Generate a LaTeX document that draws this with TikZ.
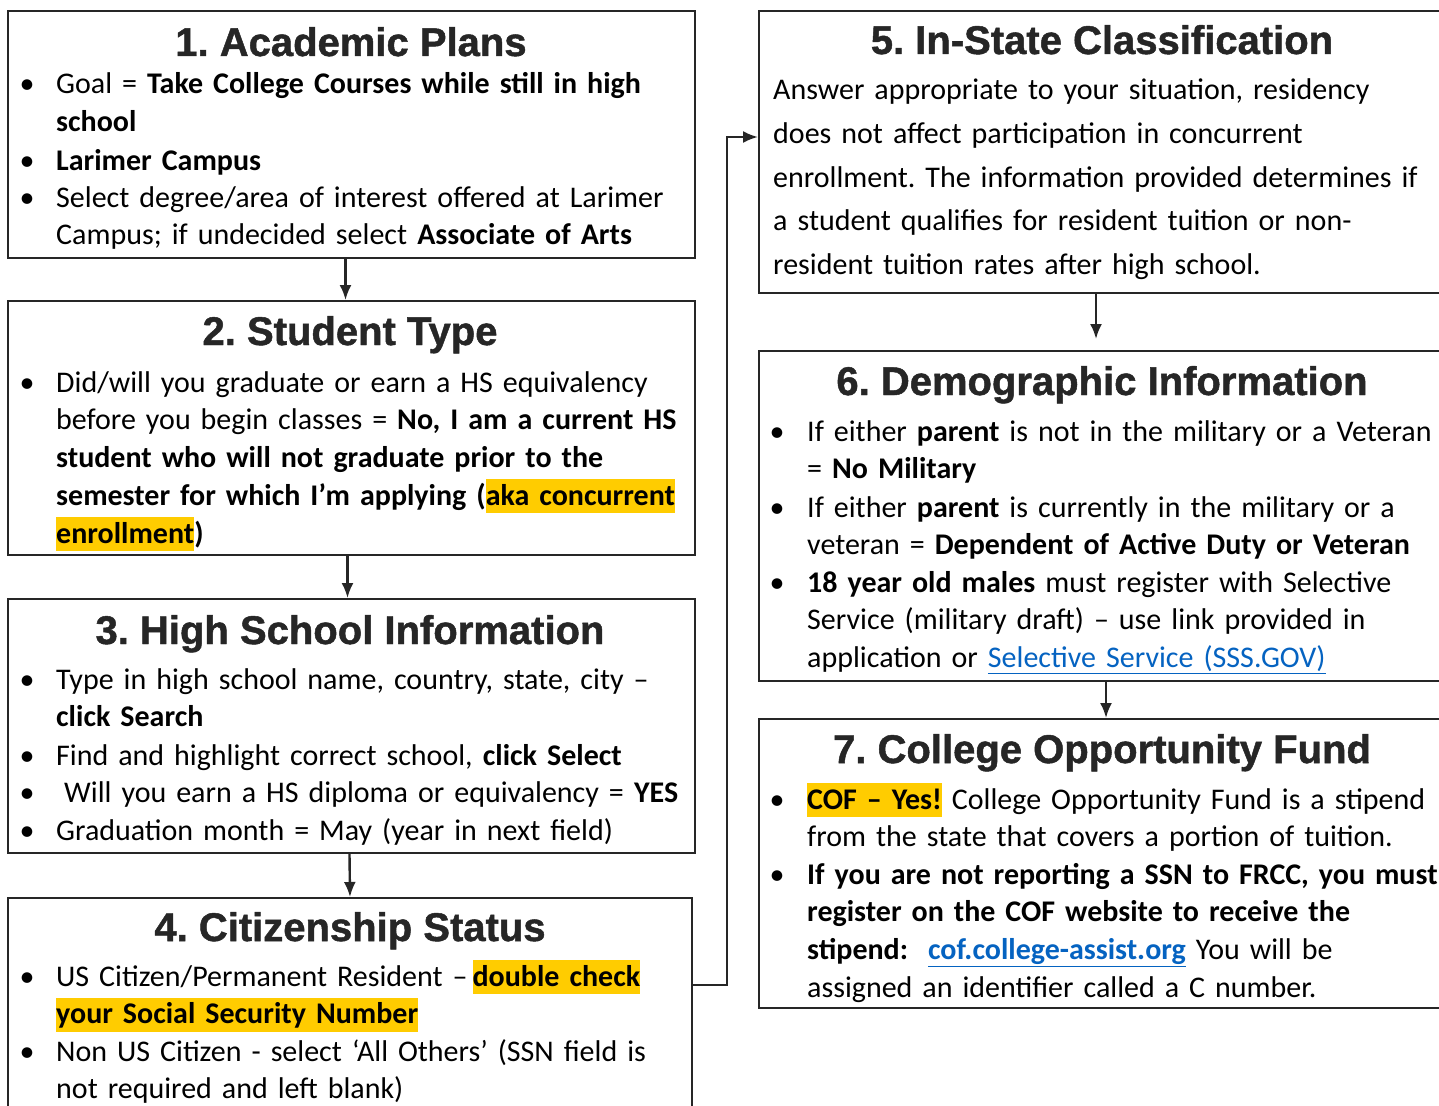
\documentclass[tikz,border=0pt]{standalone}
\usepackage{fontspec}
\setmainfont{Carlito}
\newfontfamily\ttlfont{Liberation Sans}[BoldFeatures={FakeBold=1.2}]
\usetikzlibrary{arrows.meta}
\frenchspacing

\definecolor{hlyellow}{RGB}{255,204,0}
\definecolor{linkblue}{RGB}{5,99,193}
\newcommand\hlite[1]{{\setlength{\fboxsep}{0pt}\colorbox{hlyellow}{\rule[-8pt]{0pt}{34pt}#1}}}
\newcommand\lnk[1]{\textcolor{linkblue}{\underline{#1}}}

\tikzset{
    box/.style={draw=black!85, line width=2pt, anchor=north west, inner sep=0pt},
    ttl/.style={anchor=base, inner sep=0pt, text=black!85, font={\ttlfont\bfseries\fontsize{40}{48}\selectfont}},
    txt/.style={anchor=base west, align=left, text width=700pt, inner sep=0pt, font={\fontsize{30}{37.8}\selectfont}},
    bul/.style={anchor=base, inner sep=0pt, font={\fontsize{30}{37.8}\selectfont}},
    arr/.style={-{Latex[length=15pt,width=12pt]}, line width=2.4pt, draw=black!85}
}

\begin{document}
\begin{tikzpicture}[x=1pt,y=-1pt]
    \useasboundingbox (0,0) rectangle (1439,1105);
    \clip (0,0) rectangle (1439,1105);
    \fill[white] (0,0) rectangle (1439,1105);

    % left column
    \node [box, minimum width=687pt, minimum height=247pt] (plans) at (7,10) {};
    \node [ttl] at (351,56) {1. Academic Plans};
    \node [bul] at (27,94) {\textbullet};
    \node [txt] at (56,94) {Goal = \textbf{Take College Courses while still in high}\\ \textbf{school}};
    \node [bul] at (27,170) {\textbullet};
    \node [txt] at (56,170) {\textbf{Larimer Campus}};
    \node [bul] at (27,207) {\textbullet};
    \node [txt] at (56,207) {Select degree/area of interest offered at Larimer\\ Campus; if undecided select \textbf{Associate of Arts}};

    \node [box, minimum width=687pt, minimum height=254pt] (stype) at (7,300) {};
    \node [ttl] at (350,345) {2. Student Type};
    \node [bul] at (27,392) {\textbullet};
    \node [txt] at (56,392) {Did/will you graduate or earn a HS equivalency\\ before you begin classes = \textbf{No, I am a current HS}\\ \textbf{student who will not graduate prior to the}\\ \textbf{semester for which I’m applying (\hlite{aka concurrent}}\\ \textbf{\hlite{enrollment})}};

    \node [box, minimum width=687pt, minimum height=254pt] (hsinfo) at (7,598) {};
    \node [ttl] at (350,644) {3. High School Information};
    \node [bul] at (27,689) {\textbullet};
    \node [txt] at (56,689) {Type in high school name, country, state, city --\\ \textbf{click Search}};
    \node [bul] at (27,765) {\textbullet};
    \node [txt] at (56,765) {Find and highlight correct school, \textbf{click Select}};
    \node [bul] at (27,802) {\textbullet};
    \node [txt] at (64,802) {Will you earn a HS diploma or equivalency = \textbf{YES}};
    \node [bul] at (27,840) {\textbullet};
    \node [txt] at (56,840) {Graduation month = May (year in next field)};

    \node [box, minimum width=684pt, minimum height=230pt] (citizen) at (7,897) {};
    \node [ttl] at (350,941) {4. Citizenship Status};
    \node [bul] at (27,986) {\textbullet};
    \node [txt] at (56,986) {US Citizen/Permanent Resident --\,\textbf{\hlite{double check}}\\ \textbf{\hlite{your Social Security Number}}};
    \node [bul] at (27,1061) {\textbullet};
    \node [txt] at (56,1061) {Non US Citizen - select ‘All Others’ (SSN field is\\ not required and left blank)};

    % right column
    \node [box, minimum width=688pt, minimum height=282pt] (instate) at (758,10) {};
    \node [ttl] at (1102,54) {5. In-State Classification};
    \node [txt, font={\fontsize{30}{43.5}\selectfont}] at (773,100) {Answer appropriate to your situation, residency\\ does not affect participation in concurrent\\ enrollment. The information provided determines if\\ a student qualifies for resident tuition or non-\\ resident tuition rates after high school.};

    \node [box, minimum width=688pt, minimum height=330pt] (demog) at (758,350) {};
    \node [ttl] at (1102,395) {6. Demographic Information};
    \node [bul] at (777,441) {\textbullet};
    \node [txt] at (807,441) {If either \textbf{parent} is not in the military or a Veteran\\ = \textbf{No Military}};
    \node [bul] at (777,517) {\textbullet};
    \node [txt] at (807,517) {If either \textbf{parent} is currently in the military or a\\ veteran = \textbf{Dependent of Active Duty or Veteran}};
    \node [bul] at (777,592) {\textbullet};
    \node [txt] at (807,592) {\textbf{18 year old males} must register with Selective\\ Service (military draft) -- use link provided in\\ application or \lnk{Selective Service (SSS.GOV)}};

    \node [box, minimum width=688pt, minimum height=289pt] (cof) at (758,718) {};
    \node [ttl] at (1102,763) {7. College Opportunity Fund};
    \node [bul] at (777,809) {\textbullet};
    \node [txt] at (807,809) {\textbf{\hlite{COF -- Yes!}} College Opportunity Fund is a stipend\\ from the state that covers a portion of tuition.};
    \node [bul] at (777,884) {\textbullet};
    \node [txt] at (807,884) {\textbf{If you are not reporting a SSN to FRCC, you must}\\ \textbf{register on the COF website to receive the}\\ \textbf{stipend:}\ \ \lnk{\textbf{cof.college-assist.org}} You will be\\ assigned an identifier called a C number.};

    % connectors
    \draw [arr] ([xshift=-6pt]plans.south) -- ([xshift=-6pt]stype.north);
    \draw [arr] ([xshift=-4pt]stype.south) -- ([xshift=-4pt]hsinfo.north);
    \draw [arr] ([xshift=-2pt]hsinfo.south) -- ([xshift=0pt]citizen.north);
    \draw [arr] ([yshift=-88pt]citizen.north east) -- ++(34,0) |- ([yshift=-127pt]instate.north west);
    \draw [arr, shorten >=11pt] ([xshift=-7pt]instate.south) -- ([xshift=-7pt]demog.north);
    \draw [arr] ([xshift=3pt]demog.south) -- ([xshift=3pt]cof.north);

\end{tikzpicture}
\end{document}
